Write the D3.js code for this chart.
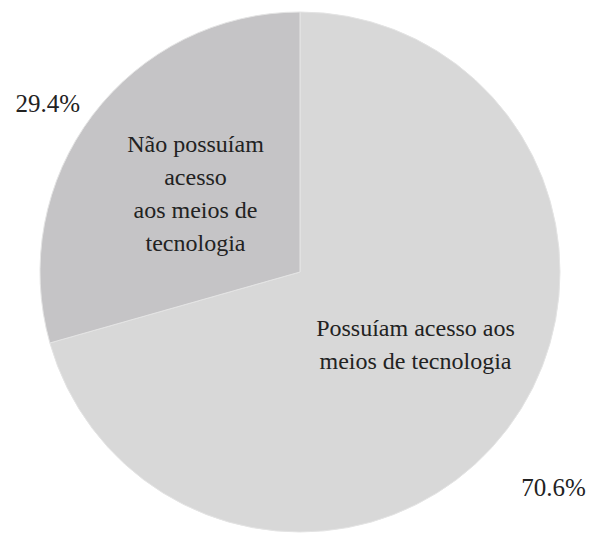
<!DOCTYPE html>
<html><head><meta charset="utf-8">
<script src="https://cdn.jsdelivr.net/npm/d3@7"></script>
<style>body{margin:0;background:#fff}svg{display:block}</style>
</head><body>
<svg id="c" width="590" height="533"></svg>
<script>
const categories = ["Possuíam acesso aos meios de tecnologia", "Não possuíam acesso aos meios de tecnologia"];
const values = [70.6, 29.4];
const pctLabels = ["70.6%", "29.4%"];
const labelLines = [["Possuíam acesso aos", "meios de tecnologia"], ["Não possuíam", "acesso", "aos meios de", "tecnologia"]];
const colors = ["#d8d8d8", "#c5c4c6"];

const W = 590, H = 533, cx = 300, cy = 272, R = 260;
const svg = d3.select("#c");
const g = svg.append("g").attr("transform", `translate(${cx},${cy})`);
const pie = d3.pie().sort(null).value(d => d)(values);
const arc = d3.arc().innerRadius(0).outerRadius(R);
g.selectAll("path").data(pie).join("path")
  .attr("d", arc).attr("fill", (d, i) => colors[i])
  .attr("stroke", "#e4e4e4").attr("stroke-width", 1);

const labArc = d3.arc().innerRadius(131).outerRadius(131);
const font = "'Liberation Serif', 'Times New Roman', serif";
const lh = 33;
const nudge = [[11, -6], [0, 0]];
pie.forEach((d, i) => {
  const [x, y] = labArc.centroid(d);
  const lines = labelLines[i];
  const t = g.append("text").attr("text-anchor", "middle")
    .attr("font-family", font).attr("font-size", 24).attr("fill", "#222");
  lines.forEach((l, j) => {
    t.append("tspan").attr("x", x + nudge[i][0])
      .attr("y", y + nudge[i][1] + (j - (lines.length - 1) / 2) * lh + 8).text(l);
  });
});
// percentage labels placed outside the pie
const pctPos = [[R * 0.975, R * 0.862], [-R * 0.97, -R * 0.615]];
pie.forEach((d, i) => {
  g.append("text").attr("x", pctPos[i][0]).attr("y", pctPos[i][1])
    .attr("text-anchor", i === 0 ? "middle" : "middle")
    .attr("font-family", font).attr("font-size", 25).attr("fill", "#222")
    .text(pctLabels[i]);
});
</script>
</body></html>
